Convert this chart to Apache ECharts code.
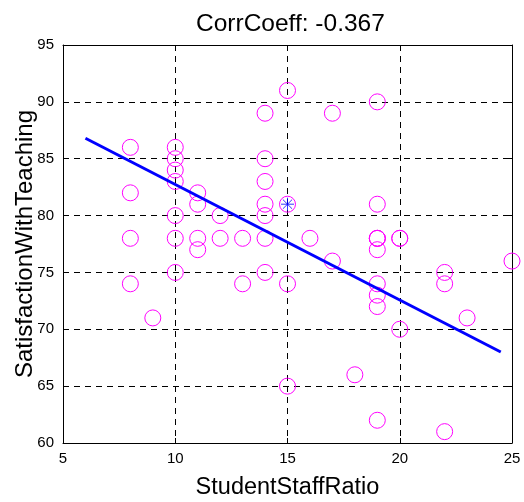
<!DOCTYPE html>
<html><head><meta charset="utf-8">
<script src="https://cdn.jsdelivr.net/npm/echarts@6/dist/echarts.min.js"></script>
<style>html,body{margin:0;padding:0;background:#fff}#c{width:524px;height:502px}</style>
</head><body><div id="c"></div>
<script>
const ratioX = [8,8,8,8,9,10,10,10,10,10,10,10,11,11,11,11,12,12,13,13,14,14,14,14,14,14,14,15,15,15,15,16,17,17,18,19,19,19,19,19,19,19,19,19,19,20,20,20,22,22,22,23,25];
const satisY = [86,82,78,74,71,86,85,84,83,80,78,75,82,81,78,77,80,78,78,74,89,85,83,81,80,78,75,91,81,74,65,78,89,76,66,90,81,78,78,78,77,74,73,72,62,78,78,70,75,74,61,71,76];
const fitX = [6, 24.5];
const fitY = [86.8, 68.0];
const meanPt = [15, 81];
const xTicks = [5,10,15,20,25];
const yTicks = [60,65,70,75,80,85,90,95];

const font = 'Liberation Sans, Arial, sans-serif';
const chart = echarts.init(document.getElementById('c'));
const star = 'path://M0,-10L0,10M-10,0L10,0M-7.07,-7.07L7.07,7.07M-7.07,7.07L7.07,-7.07';
const axisBase = {
  type:'value', axisLine:{show:true,lineStyle:{color:'#000',width:1}},
  axisTick:{show:true,inside:true,length:5,lineStyle:{color:'#000'}},
};
chart.setOption({
  animation:false,
  title:{text:'CorrCoeff: -0.367',left:191,top:7,textStyle:{fontFamily:font,fontSize:24.5,fontWeight:'normal',color:'#000'}},
  grid:{left:63,right:12,top:45,bottom:59,containLabel:false,outerBoundsMode:'none'},
  xAxis:[
    Object.assign({},axisBase,{min:5,max:25,interval:5,position:'bottom',
      name:'StudentStaffRatio',nameLocation:'middle',nameGap:33,nameMoveOverlap:false,
      nameTextStyle:{fontFamily:font,fontSize:23.5,color:'#000'},
      axisLabel:{fontFamily:font,fontSize:15,color:'#000',margin:8},
      splitLine:{show:true,lineStyle:{color:'#000',type:[6,5],width:1}}}),
    Object.assign({},axisBase,{min:5,max:25,interval:5,position:'top',axisLabel:{show:false},splitLine:{show:false}})
  ],
  yAxis:[
    Object.assign({},axisBase,{min:60,max:95,interval:5,position:'left',
      name:'SatisfactionWithTeaching',nameLocation:'middle',nameGap:26,nameMoveOverlap:false,
      nameTextStyle:{fontFamily:font,fontSize:24,color:'#000'},
      axisLabel:{fontFamily:font,fontSize:15,color:'#000',margin:9},
      splitLine:{show:true,lineStyle:{color:'#000',type:[6,5],width:1}}}),
    Object.assign({},axisBase,{min:60,max:95,interval:5,position:'right',axisLabel:{show:false},splitLine:{show:false}})
  ],
  series:[
    {type:'scatter',data:ratioX.map((x,i)=>[x,satisY[i]]),symbol:'circle',symbolSize:16,
      itemStyle:{color:'rgba(0,0,0,0)',borderColor:'#ff00ff',borderWidth:1,opacity:1},z:3},
    {type:'line',data:fitX.map((x,i)=>[x,fitY[i]]),symbol:'none',lineStyle:{color:'#0000ff',width:3},z:4},
    {type:'scatter',data:[meanPt],symbol:star,symbolSize:13,
      itemStyle:{color:'none',borderColor:'#0000ff',borderWidth:1},z:5}
  ]
});
</script></body></html>
